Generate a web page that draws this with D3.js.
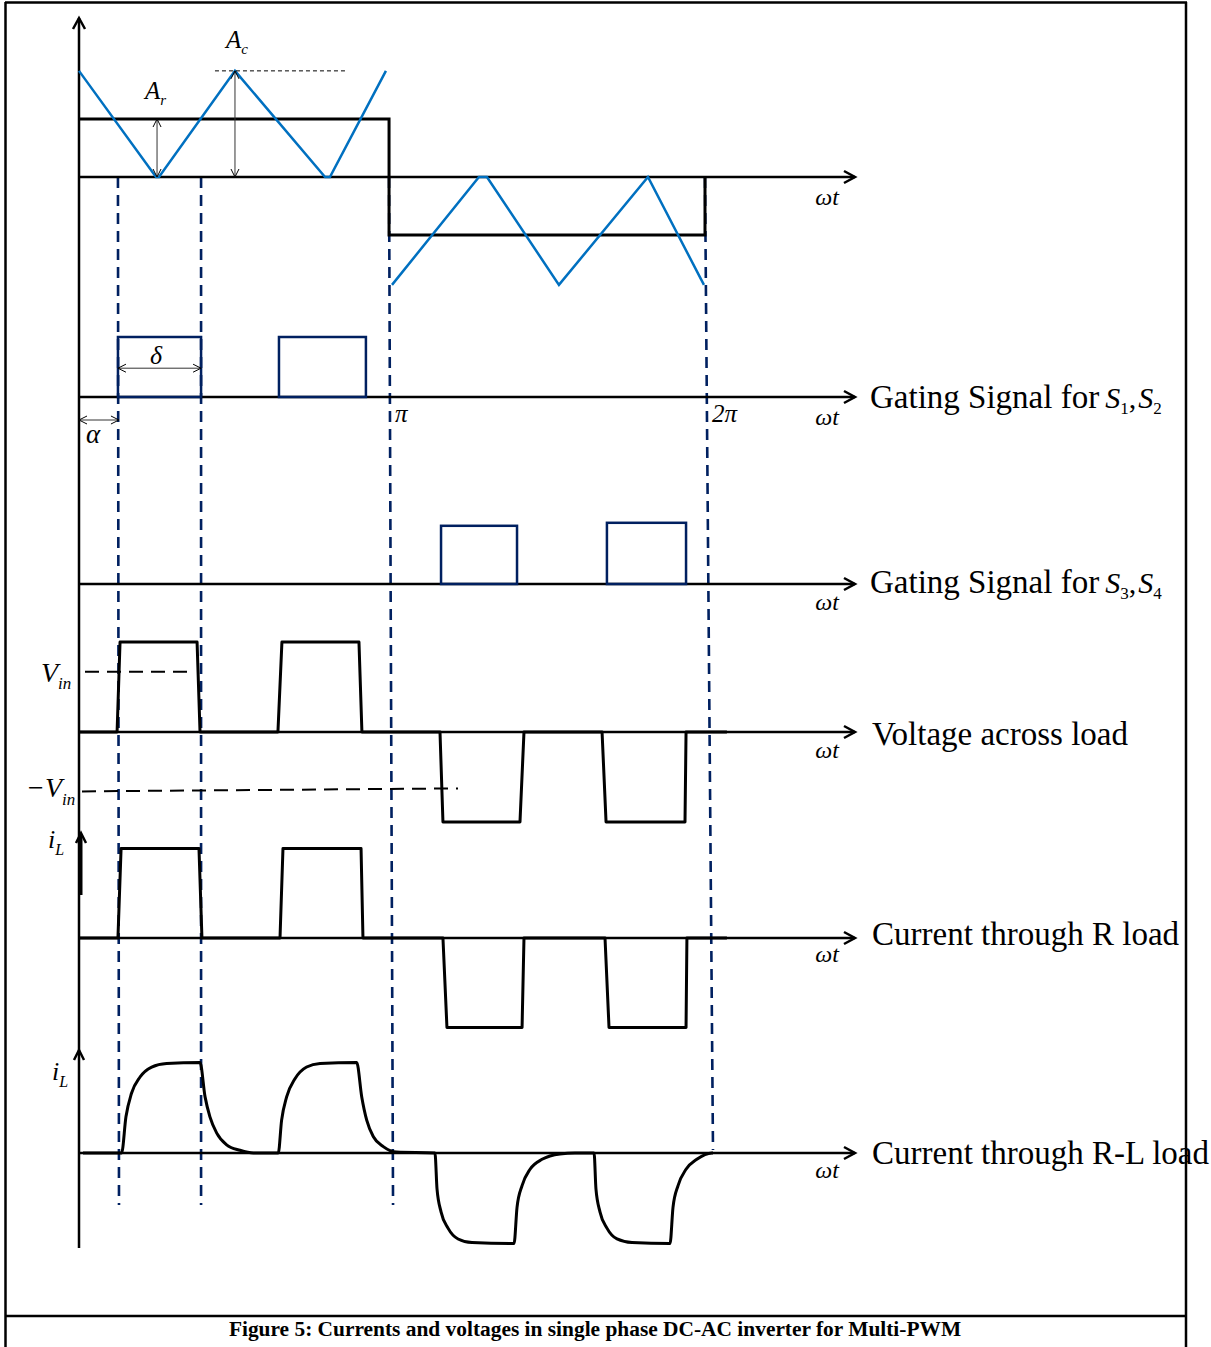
<!DOCTYPE html>
<html>
<head>
<meta charset="utf-8">
<script src="https://cdn.jsdelivr.net/npm/d3@7"></script>
<style>
  body { margin: 0; background: #fff; }
  svg { display: block; }
  text { font-family: "Liberation Serif", "Times New Roman", serif; fill: #000; }
</style>
</head>
<body>
<svg id="chart" width="1211" height="1347"></svg>
<script>
// ---- data: angle ωt in degrees, amplitudes in per-unit of each trace ----
const periodDeg = [180, 360];
const periodLabels = ["π", "2π"];

// reference (modulating) square wave and triangular carrier
const referenceWave = [[0, 1], [178.3, 1], [178.3, -1], [360, -1], [360, 0]];
const carrierFirstHalf = [[0, 1.83], [44.3, 0], [46.0, 0], [89.7, 1.83], [141.5, 0], [144.3, 0], [176.5, 1.83]];
const carrierSecondHalf = [[180, -1.86], [230, 0], [234.6, 0], [276, -1.86], [327.2, 0], [359.4, -1.86]];

// gate pulses: [start, end, height]
const gateS12 = [[22.4, 70.2, 1.0], [115.0, 165.0, 1.0]];
const gateS34 = [[208.2, 251.9, 0.97], [303.6, 349.1, 1.02]];

// load voltage and resistive load current
const loadVoltage = [[0, 0], [21.9, 0], [23.6, 1], [67.9, 1], [69.6, 0], [114.4, 0], [116.7, 1], [161.0, 1], [162.7, 0],
  [207.6, 0], [209.3, -1], [253.6, -1], [255.9, 0], [300.8, 0], [303.1, -1], [348.5, -1], [349.1, 0], [372.6, 0]];
const vinLevel = 0.67;
const negVinLevel = -0.66;
const currentR = [[0, 0], [22.4, 0], [24.2, 1], [69.0, 1], [70.7, 0], [115.6, 0], [117.3, 1], [162.2, 1], [163.3, 0],
  [209.3, 0], [211.6, -1], [254.8, -1], [255.9, 0], [302.5, 0], [304.8, -1], [349.1, -1], [349.6, 0], [372.6, 0]];

// inductive load current
const currentRL = [[2.3, 0], [24.5, 0], [27.0, 0.40], [30.2, 0.66], [35.1, 0.84], [41.8, 0.95], [50.4, 0.99], [69.6, 1.0],
  [72.5, 0.62], [75.3, 0.40], [79.2, 0.22], [84.9, 0.09], [92.6, 0.03], [100.3, 0],
  [114.6, 0], [116.5, 0.36], [119.4, 0.62], [124.2, 0.82], [130.9, 0.95], [138.6, 0.99], [159.7, 1.0],
  [162.6, 0.62], [165.5, 0.36], [169.3, 0.18], [175.0, 0.07], [182.7, 0.01],
  [204.7, 0], [205.9, -0.40], [208.2, -0.65], [212.2, -0.83], [218.0, -0.95], [226.0, -0.99], [250.2, -1.0],
  [251.9, -0.60], [254.8, -0.36], [259.4, -0.18], [266.3, -0.07], [276.6, -0.01], [285.2, 0],
  [296.2, 0], [297.3, -0.40], [299.6, -0.65], [303.6, -0.83], [309.4, -0.95], [318.0, -0.99], [339.9, -1.0],
  [341.6, -0.60], [344.5, -0.36], [349.1, -0.18], [355.3, -0.07], [364.0, 0], [364.6, 0]];

// switching instants marked by dashed guides (top end, bottom end)
const guideTopDeg = [22.4, 70.2, 178.3, 360];
const guideBottomDeg = [23.0, 70.2, 180.6, 364.6];

const panelTitles = ["Gating Signal for", "Gating Signal for", "Voltage across load", "Current through R load", "Current through R-L load"];
const switchPairs = [["1", "2"], ["3", "4"]];
const caption = "Figure 5: Currents and voltages in single phase DC-AC inverter for Multi-PWM";

// ---- layout ----
const NAVY = "#002060", BLUE = "#0070C0";
const L = {
  axisX: 79, axisTop: 18, axisBottom: 1248, axisRight: 855,
  ref: { base: 177, unit: 58, omegaY: 205 },
  g12: { base: 397, unit: 60, omegaY: 425, titleY: 408 },
  g34: { base: 584, unit: 60, omegaY: 610, titleY: 593 },
  vo:  { base: 732, unit: 90, omegaY: 758, titleY: 745 },
  iR:  { base: 938, unit: 89.5, omegaY: 962, titleY: 945 },
  iRL: { base: 1153, unit: 90.5, omegaY: 1178, titleY: 1164 },
  guideTop: 177, guideBottom: [1205, 1205, 1205, 1150]
};

const svg = d3.select("#chart");
const x = d3.scaleLinear().domain([0, 360]).range([79, 705]);
const yScale = p => d3.scaleLinear().domain([-1, 1]).range([p.base + p.unit, p.base - p.unit]);
const lineOf = (p, curve) => {
  const y = yScale(p);
  return d3.line().x(d => x(d[0])).y(d => y(d[1])).curve(curve || d3.curveLinear);
};

// page frame
const frame = svg.append("g").attr("stroke", "#000").attr("stroke-width", 2.5);
frame.append("line").attr("x1", 5).attr("x2", 1187).attr("y1", 2.5).attr("y2", 2.5);
frame.append("line").attr("x1", 5.5).attr("x2", 5.5).attr("y1", 2).attr("y2", 1347);
frame.append("line").attr("x1", 1186).attr("x2", 1186).attr("y1", 2).attr("y2", 1347);
frame.append("line").attr("x1", 5).attr("x2", 1187).attr("y1", 1316).attr("y2", 1316);

svg.append("text").attr("x", 595).attr("y", 1336).attr("text-anchor", "middle")
  .attr("font-size", 21.4).attr("font-weight", "bold").text(caption);

// arrow helpers
function chevron(cx, cy, dir, len = 11, half = 6, w = 2.5) {
  let d;
  if (dir === "right") d = `M${cx - len},${cy - half}L${cx},${cy}L${cx - len},${cy + half}`;
  else if (dir === "left") d = `M${cx + len},${cy - half}L${cx},${cy}L${cx + len},${cy + half}`;
  else if (dir === "up") d = `M${cx - half},${cy + len}L${cx},${cy}L${cx + half},${cy + len}`;
  else d = `M${cx - half},${cy - len}L${cx},${cy}L${cx + half},${cy - len}`;
  svg.append("path").attr("d", d).attr("fill", "none").attr("stroke", "#000").attr("stroke-width", w)
    .attr("stroke-linejoin", "miter");
}
function dimArrow(x1, y1, x2, y2) {
  svg.append("line").attr("x1", x1).attr("y1", y1).attr("x2", x2).attr("y2", y2)
    .attr("stroke", "#333").attr("stroke-width", 1);
  const horiz = y1 === y2;
  if (horiz) { chevron(x1, y1, "left", 8, 4, 1); chevron(x2, y2, "right", 8, 4, 1); }
  else { chevron(x1, y1, "up", 8, 4, 1); chevron(x2, y2, "down", 8, 4, 1); }
}

// dashed switching guides
guideTopDeg.forEach((d, i) => {
  svg.append("line").attr("x1", x(d)).attr("y1", L.guideTop)
    .attr("x2", x(guideBottomDeg[i])).attr("y2", L.guideBottom[i])
    .attr("stroke", NAVY).attr("stroke-width", 2.6).attr("stroke-dasharray", "11,7");
});

// main vertical axis
svg.append("line").attr("x1", L.axisX).attr("x2", L.axisX).attr("y1", L.axisTop).attr("y2", L.axisBottom)
  .attr("stroke", "#000").attr("stroke-width", 2.5);
chevron(L.axisX, L.axisTop, "up");

// horizontal ωt axes
["ref", "g12", "g34", "vo", "iR", "iRL"].forEach(k => {
  const p = L[k];
  svg.append("line").attr("x1", L.axisX).attr("x2", L.axisRight).attr("y1", p.base).attr("y2", p.base)
    .attr("stroke", "#000").attr("stroke-width", 2.5);
  chevron(L.axisRight, p.base, "right");
  svg.append("text").attr("x", 827).attr("y", p.omegaY).attr("text-anchor", "middle")
    .attr("font-size", 24).attr("font-style", "italic").text("ωt");
});

// ---- top panel: reference and carrier ----
svg.append("path").datum(referenceWave).attr("d", lineOf(L.ref))
  .attr("fill", "none").attr("stroke", "#000").attr("stroke-width", 3);
[carrierFirstHalf, carrierSecondHalf].forEach(c => {
  svg.append("path").datum(c).attr("d", lineOf(L.ref))
    .attr("fill", "none").attr("stroke", BLUE).attr("stroke-width", 2.5);
});
const yRef = yScale(L.ref);
const carrierPeak = carrierFirstHalf[3];
svg.append("line").attr("x1", x(carrierPeak[0]) - 20).attr("x2", x(carrierPeak[0]) + 110)
  .attr("y1", yRef(carrierPeak[1])).attr("y2", yRef(carrierPeak[1]))
  .attr("stroke", "#000").attr("stroke-width", 1).attr("stroke-dasharray", "4,3");
dimArrow(x(carrierFirstHalf[1][0]) + 1, yRef(referenceWave[0][1]), x(carrierFirstHalf[1][0]) + 1, yRef(0));
dimArrow(x(carrierPeak[0]), yRef(carrierPeak[1]), x(carrierPeak[0]), yRef(0));

function subLabel(px, py, main, sub, size, subSize, subDy, italicSub = true) {
  const t = svg.append("text").attr("x", px).attr("y", py).attr("font-size", size).attr("font-style", "italic");
  t.append("tspan").text(main);
  t.append("tspan").attr("font-size", subSize).attr("dy", subDy)
    .attr("font-style", italicSub ? "italic" : "normal").text(sub);
}
subLabel(226, 48, "A", "c", 25, 15, 6);
subLabel(145, 99, "A", "r", 25, 15, 6);

// ---- gating signals ----
function gates(data, p) {
  const y = yScale(p);
  svg.append("g").selectAll("rect").data(data).join("rect")
    .attr("x", d => x(d[0])).attr("width", d => x(d[1]) - x(d[0]))
    .attr("y", d => y(d[2])).attr("height", d => y(0) - y(d[2]))
    .attr("fill", "none").attr("stroke", NAVY).attr("stroke-width", 2.5);
}
gates(gateS12, L.g12);
gates(gateS34, L.g34);

// pulse width δ and delay α
const yG = yScale(L.g12);
dimArrow(x(gateS12[0][0]), yG(0.48), x(gateS12[0][1]), yG(0.48));
svg.append("text").attr("x", 150).attr("y", 364).attr("font-size", 26).attr("font-style", "italic").text("δ");
dimArrow(L.axisX, 420, x(gateS12[0][0]) + 1, 420);
svg.append("text").attr("x", 86).attr("y", 443).attr("font-size", 27).attr("font-style", "italic").text("α");
periodDeg.forEach((d, i) => {
  svg.append("text").attr("x", x(d) + (i === 0 ? 3 : 7)).attr("y", 422)
    .attr("font-size", 25).attr("font-style", "italic").text(periodLabels[i]);
});

// ---- load voltage ----
const yV = yScale(L.vo);
svg.append("path").datum(loadVoltage).attr("d", lineOf(L.vo))
  .attr("fill", "none").attr("stroke", "#000").attr("stroke-width", 3).attr("stroke-linejoin", "round");
svg.append("line").attr("x1", 85).attr("x2", 190).attr("y1", yV(vinLevel)).attr("y2", yV(vinLevel))
  .attr("stroke", "#000").attr("stroke-width", 2).attr("stroke-dasharray", "14,8");
svg.append("line").attr("x1", 82).attr("x2", 458).attr("y1", yV(negVinLevel)).attr("y2", yV(negVinLevel) - 3)
  .attr("stroke", "#000").attr("stroke-width", 2).attr("stroke-dasharray", "14,8");
subLabel(41, 682, "V", "in", 28, 17, 7);
subLabel(26, 797, "−V", "in", 28, 17, 8);

// ---- resistive load current ----
svg.append("path").datum(currentR).attr("d", lineOf(L.iR))
  .attr("fill", "none").attr("stroke", "#000").attr("stroke-width", 3).attr("stroke-linejoin", "round");
svg.append("line").attr("x1", 81).attr("x2", 81).attr("y1", 895).attr("y2", 834)
  .attr("stroke", "#000").attr("stroke-width", 3);
chevron(81, 833, "up", 10, 5);
subLabel(48, 848, "i", "L", 26, 16, 7);

// ---- R-L load current ----
svg.append("path").datum(currentRL).attr("d", lineOf(L.iRL, d3.curveMonotoneX))
  .attr("fill", "none").attr("stroke", "#000").attr("stroke-width", 3);
chevron(L.axisX, 1050, "up", 10, 5);
subLabel(52, 1080, "i", "L", 26, 16, 7);

// ---- trace titles ----
["g12", "g34", "vo", "iR", "iRL"].forEach((k, i) => {
  const t = svg.append("text").attr("x", i < 2 ? 870 : 872).attr("y", L[k].titleY)
    .attr("font-size", 33);
  t.append("tspan").text(panelTitles[i]);
  if (i < 2) {
    const s = switchPairs[i];
    t.append("tspan").attr("dx", 6).attr("font-style", "italic").attr("font-size", 30).text("S");
    t.append("tspan").attr("font-size", 17).attr("dy", 6).text(s[0]);
    t.append("tspan").attr("font-size", 30).attr("dy", -6).text(",");
    t.append("tspan").attr("dx", 2).attr("font-style", "italic").attr("font-size", 30).text("S");
    t.append("tspan").attr("font-size", 17).attr("dy", 6).text(s[1]);
  }
});
</script>
</body>
</html>
